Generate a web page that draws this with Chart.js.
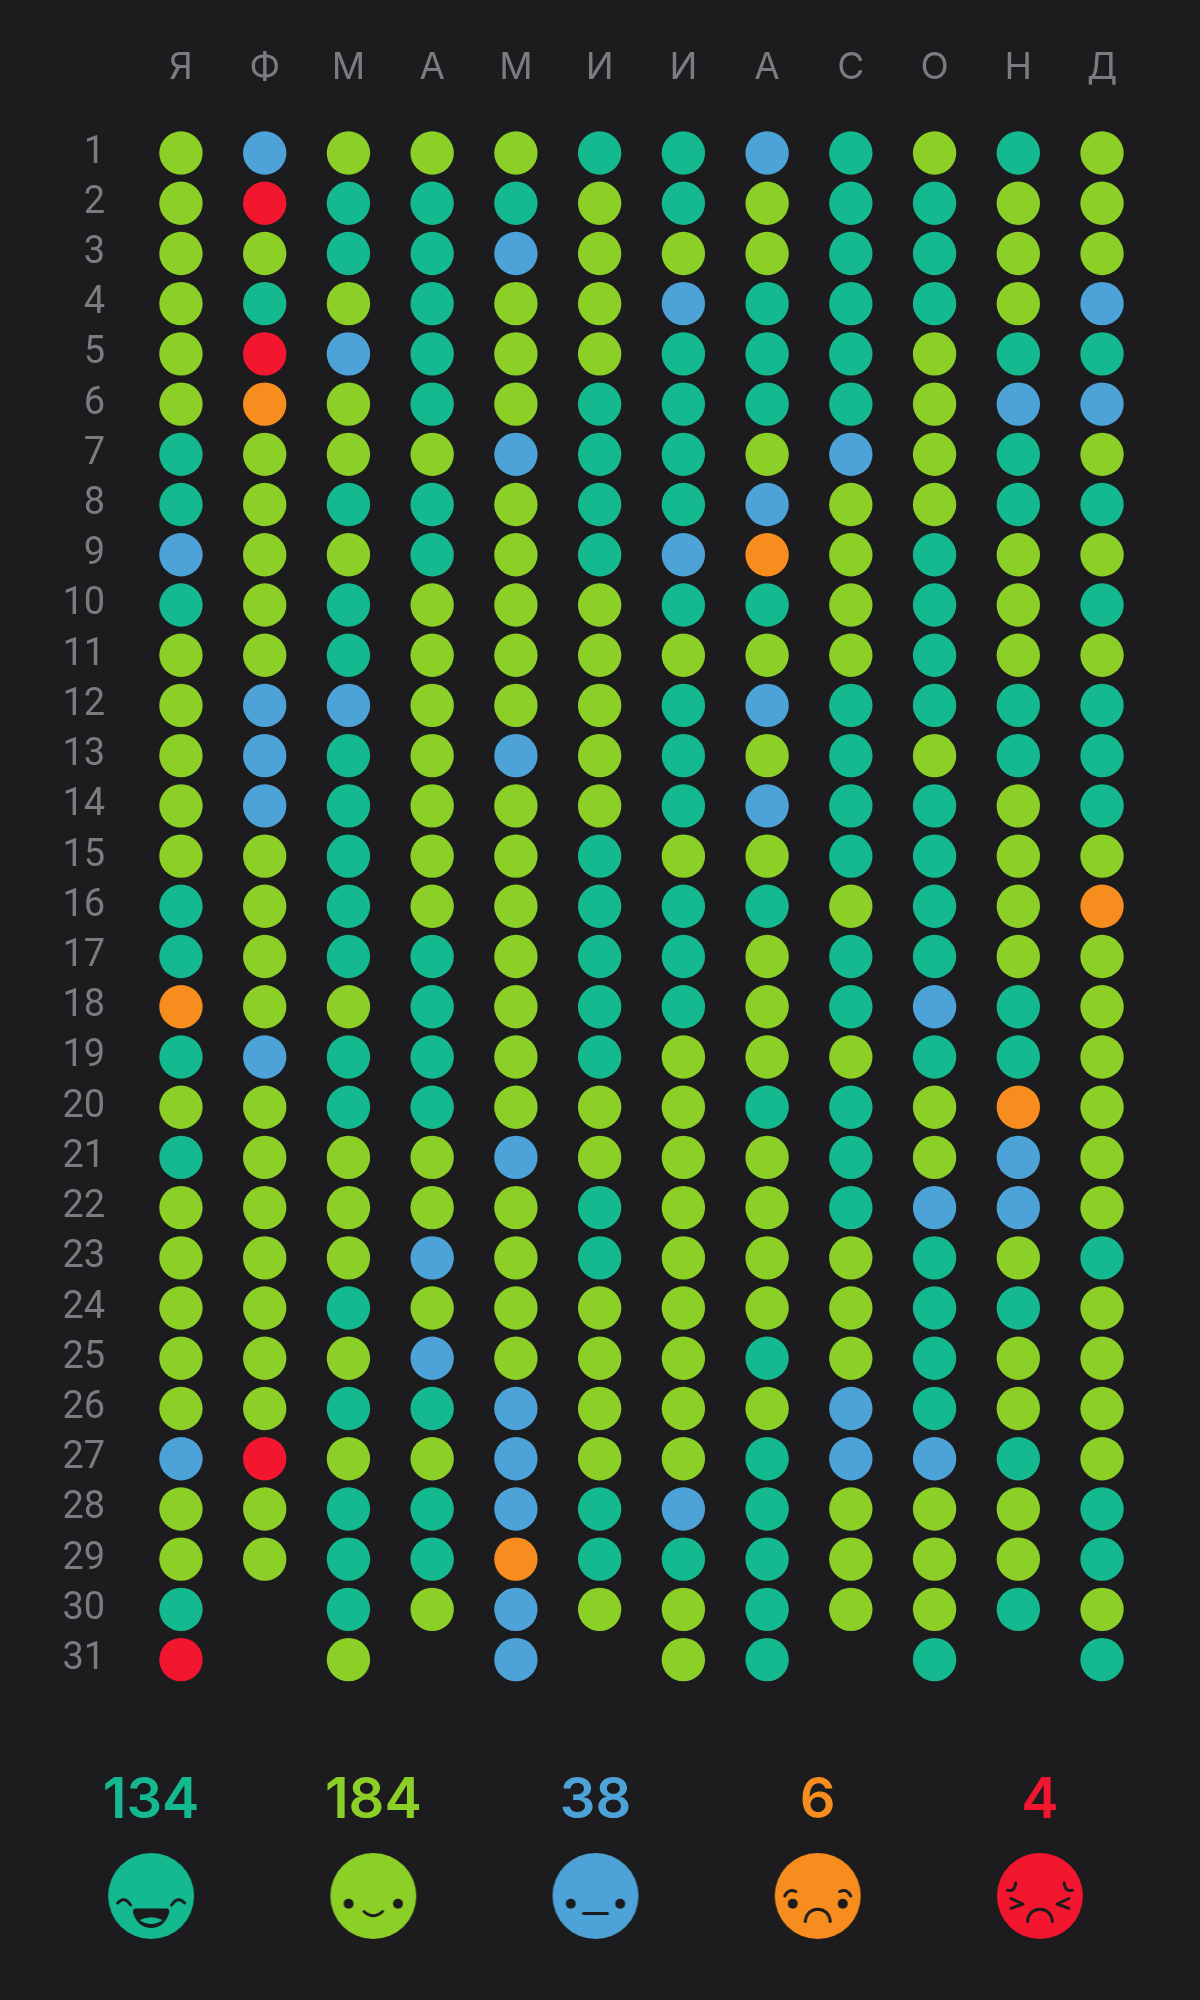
<!DOCTYPE html>
<html lang="ru">
<head>
<meta charset="utf-8">
<title>Настроение за год</title>
<script src="https://cdn.jsdelivr.net/npm/chart.js@4/dist/chart.umd.min.js"></script>
<style>
  html, body { margin: 0; padding: 0; background: #1c1c1e; }
  #wrap { position: relative; width: 1197px; height: 2000px; overflow: hidden; background: #1c1c1e; }
  canvas { position: absolute; left: 0; }
  #gridChart { top: 0; }
  #summaryChart { top: 1720px; }
</style>
</head>
<body>
<div id="wrap">
  <canvas id="gridChart" width="1197" height="1720"></canvas>
  <canvas id="summaryChart" width="1197" height="280"></canvas>
</div>
<script>
// Подписи осей
const months = ['Я', 'Ф', 'М', 'А', 'М', 'И', 'И', 'А', 'С', 'О', 'Н', 'Д'];
const days = [1, 2, 3, 4, 5, 6, 7, 8, 9, 10, 11, 12, 13, 14, 15, 16, 17, 18, 19, 20, 21, 22, 23, 24, 25, 26, 27, 28, 29, 30, 31];

// Настроение по дням: строка = день, символ = месяц (T G B O R, "-" если дня нет)
const moodRows = [
    'GBGGGTTBTGTG',
    'GRTTTGTGTTGG',
    'GGTTBGGGTTGG',
    'GTGTGGBTTTGB',
    'GRBTGGTTTGTT',
    'GOGTGTTTTGBB',
    'TGGGBTTGBGTG',
    'TGTTGTTBGGTT',
    'BGGTGTBOGTGG',
    'TGTGGGTTGTGT',
    'GGTGGGGGGTGG',
    'GBBGGGTBTTTT',
    'GBTGBGTGTGTT',
    'GBTGGGTBTTGT',
    'GGTGGTGGTTGG',
    'TGTGGTTTGTGO',
    'TGTTGTTGTTGG',
    'OGGTGTTGTBTG',
    'TBTTGTGGGTTG',
    'GGTTGGGTTGOG',
    'TGGGBGGGTGBG',
    'GGGGGTGGTBBG',
    'GGGBGTGGGTGT',
    'GGTGGGGGGTTG',
    'GGGBGGGTGTGG',
    'GGTTBGGGBTGG',
    'BRGGBGGTBBTG',
    'GGTTBTBTGGGT',
    'GGTTOTTTGGGT',
    'T-TGBGGTGGTG',
    'R-G-B-GT-T-T'
];

// Итоги по настроениям
const moodCodes = ['T', 'G', 'B', 'O', 'R'];
const moodColors = ['#14b98f', '#8ccf27', '#4da3d8', '#f78d1e', '#f2162e'];
const moodCounts = [134, 184, 38, 6, 4];

const bgColor = '#1c1c1e';
const labelColor = '#7b7b80';

// Собрать точки одного настроения из таблицы
function pointsForMood(code) {
    const points = [];
    moodRows.forEach((row, dayIndex) => {
        [...row].forEach((cell, monthIndex) => {
            if (cell === code) points.push({ x: monthIndex, y: days[dayIndex] });
        });
    });
    return points;
}

// Убрать поля, которые шкала добавляет под крайние подписи
function noLabelMargins(scale) {
    scale.paddingLeft = 0;
    scale.paddingRight = 0;
    scale.paddingTop = 0;
    scale.paddingBottom = 0;
}

// Рисуем мордочку для итоговой строки
function makeFace(index) {
    const size = 90;
    const c = document.createElement('canvas');
    c.width = size;
    c.height = size;
    const g = c.getContext('2d');
    g.translate(size / 2, size / 2);
    g.fillStyle = moodColors[index];
    g.beginPath();
    g.arc(0, 0, 43, 0, Math.PI * 2);
    g.fill();

    g.fillStyle = bgColor;
    g.strokeStyle = bgColor;
    g.lineWidth = 3;
    g.lineCap = 'round';
    g.lineJoin = 'round';

    const eyes = (dx) => {
        [-dx, dx].forEach(x => {
            g.beginPath();
            g.arc(x, 7.7, 5, 0, Math.PI * 2);
            g.fill();
        });
    };
    const curve = (x1, y1, cx, cy, x2, y2) => {
        g.beginPath();
        g.moveTo(x1, y1);
        g.quadraticCurveTo(cx, cy, x2, y2);
        g.stroke();
    };

    if (index === 0) {
        curve(-33.5, 7, -27, -0.5, -20.5, 9);
        curve(33.5, 7, 27, -0.5, 20.5, 9);
        g.beginPath();
        g.moveTo(-15, 12.5);
        g.lineTo(15, 12.5);
        g.quadraticCurveTo(19, 12.5, 18, 17);
        g.bezierCurveTo(15, 27, 8, 32, 0, 32);
        g.bezierCurveTo(-8, 32, -15, 27, -18, 17);
        g.quadraticCurveTo(-19, 12.5, -15, 12.5);
        g.fill();
        g.fillStyle = moodColors[0];
        g.beginPath();
        g.moveTo(-11.5, 24);
        g.quadraticCurveTo(0, 18.5, 11.5, 24);
        g.quadraticCurveTo(6, 28, 0, 28);
        g.quadraticCurveTo(-6, 28, -11.5, 24);
        g.fill();
    } else if (index === 1) {
        eyes(24.7);
        curve(-9.3, 15.5, 0, 24, 9.3, 15.5);
    } else if (index === 2) {
        eyes(24.7);
        curve(-12, 17.5, 0, 17.5, 12, 17.5);
    } else if (index === 3) {
        eyes(25);
        curve(-33, 0, -29, -8, -22, -4.5);
        curve(33, 0, 29, -8, 22, -4.5);
        g.beginPath();
        g.moveTo(-12.5, 25.5);
        g.bezierCurveTo(-11, 9, 11, 9, 12.5, 25.5);
        g.stroke();
    } else {
        curve(-24.3, -13, -25, -4, -32.3, -5.7);
        curve(24.3, -13, 25, -4, 32.3, -5.7);
        [-1, 1].forEach(s => {
            g.beginPath();
            g.moveTo(s * 29, 2.5);
            g.lineTo(s * 17, 8);
            g.lineTo(s * 29, 12.3);
            g.stroke();
        });
        g.beginPath();
        g.moveTo(-12.5, 25.5);
        g.bezierCurveTo(-11, 9, 11, 9, 12.5, 25.5);
        g.stroke();
    }
    return c;
}

// Сетка дней по месяцам
new Chart(document.getElementById('gridChart'), {
    type: 'scatter',
    data: {
        datasets: moodCodes.map((code, i) => ({
            label: code,
            data: pointsForMood(code),
            backgroundColor: moodColors[i],
            borderWidth: 0,
            pointRadius: 21.7,
            pointHoverRadius: 21.7
        }))
    },
    options: {
        responsive: false,
        animation: false,
        devicePixelRatio: 1,
        layout: { autoPadding: false, padding: { left: 0, top: 0, right: 53.1, bottom: 35.3 } },
        plugins: { legend: { display: false }, tooltip: { enabled: false } },
        scales: {
            x: {
                type: 'linear',
                position: 'top',
                min: -0.5,
                max: 11.5,
                afterBuildTicks: scale => { scale.ticks = months.map((m, i) => ({ value: i })); },
                afterFit: scale => { scale.height = 127.9; noLabelMargins(scale); },
                grid: { display: false, drawTicks: false },
                border: { display: false },
                ticks: {
                    autoSkip: false,
                    maxRotation: 0,
                    padding: 38,
                    color: labelColor,
                    font: { family: 'Inter', size: 37, weight: 400 },
                    callback: value => months[value]
                }
            },
            y: {
                type: 'linear',
                reverse: true,
                min: 0.5,
                max: 31.5,
                afterBuildTicks: scale => { scale.ticks = days.map(d => ({ value: d })); },
                afterFit: scale => { scale.width = 139.1; noLabelMargins(scale); },
                grid: { display: false, drawTicks: false },
                border: { display: false },
                ticks: {
                    autoSkip: false,
                    padding: 34,
                    color: labelColor,
                    font: { family: 'Roboto', size: 38, weight: 400 }
                }
            }
        }
    }
});

// Итоги: числа и мордочки
new Chart(document.getElementById('summaryChart'), {
    type: 'scatter',
    data: {
        datasets: [{
            data: moodCounts.map((count, i) => ({ x: i, y: 0.5 })),
            pointStyle: moodCounts.map((count, i) => makeFace(i)),
            pointRadius: 43,
            pointHoverRadius: 43
        }]
    },
    options: {
        responsive: false,
        animation: false,
        devicePixelRatio: 1,
        layout: { autoPadding: false, padding: { left: 40, top: 0, right: 46, bottom: 43 } },
        plugins: { legend: { display: false }, tooltip: { enabled: false } },
        scales: {
            x: {
                type: 'linear',
                position: 'top',
                min: -0.5,
                max: 4.5,
                afterBuildTicks: scale => { scale.ticks = moodCounts.map((c, i) => ({ value: i })); },
                afterFit: scale => { scale.height = 115; noLabelMargins(scale); },
                grid: { display: false, drawTicks: false },
                border: { display: false },
                ticks: {
                    autoSkip: false,
                    maxRotation: 0,
                    padding: 0,
                    color: ctx => moodColors[ctx.index],
                    font: { family: 'Inter', size: 56, weight: 600 },
                    callback: value => String(moodCounts[value])
                }
            },
            y: { display: false, min: 0, max: 1 }
        }
    }
});
</script>
</body>
</html>
